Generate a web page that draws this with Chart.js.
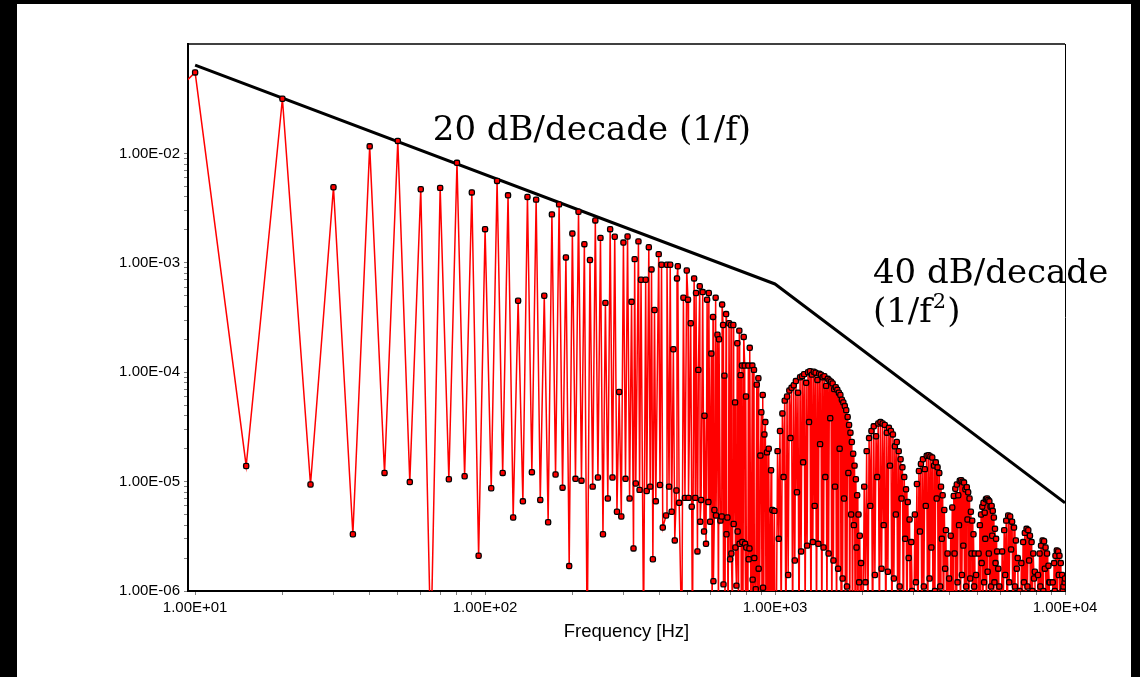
<!DOCTYPE html>
<html>
<head>
<meta charset="utf-8">
<script src="https://cdn.jsdelivr.net/npm/chart.js@4.4.0/dist/chart.umd.min.js"></script>
<style>
  html, body { margin: 0; padding: 0; background: #000; width: 1140px; height: 677px; overflow: hidden; }
  #frame { position: absolute; left: 17px; top: 4px; width: 1114px; height: 673px; background: #fff; }
</style>
</head>
<body>
<div id="frame"><canvas id="chart" width="1114" height="673"></canvas></div>
<script>
// Spectrum, split in bands (Hz / amplitude)
var lowFreq = [5,10,15,20,25,30,35,40,45,50,55,60,65,70,75,80,85,90,95,100,105,110,115,120,125,130,135,140,145,150,155,160,
  165,170,175,180,185,190,195,200,205,210,215,220,225,230,235,240,245,250,255,260,265,270,275,280,285,290,295,300,305,310,315,320];
var lowAmp = [9e-3,5.5e-2,1.39e-5,3.16e-2,9.4e-6,4.9e-3,3.3e-6,1.16e-2,1.2e-5,1.3e-2,9.9e-6,4.7e-3,3e-7,4.84e-3,1.05e-5,8.2e-3,
  1.12e-5,4.4e-3,2.1e-6,2.03e-3,8.7e-6,5.6e-3,1.2e-5,4.14e-3,4.7e-6,4.5e-4,6.6e-6,4.0e-3,1.22e-5,3.78e-3,6.8e-6,5.0e-4,
  4.25e-6,2.77e-3,1.16e-5,3.42e-3,8.8e-6,1.12e-3,1.69e-6,1.85e-3,1.06e-5,2.93e-3,1.02e-5,1.48e-3,3e-7,1.06e-3,9.0e-6,2.44e-3,
  1.09e-5,1.69e-3,3.3e-6,4.3e-4,7.0e-6,2.03e-3,1.09e-5,1.73e-3,5.3e-6,6.6e-5,4.8e-6,1.53e-3,1.06e-5,1.74e-3,7.0e-6,4.4e-4];

var midFreq = [325,328,331,338,341,345,352,358,361,367,371,375,379,384,388,397,401,406,410,421,424,431,435,440,446,451,457,459,
  462,467,477,483,489,496,501,503,512,516,519,526,531,534,540,544,550,552,556,563,569,571,578,583,589,591,597,603,607,611,613,
  618,624,626,633,638,641,648,655,657,662,664,669,672,678,680,685,689,694,700,705,707,713,718,720,728,730,736,741,743,748,753,
  755,761,765,769,771,775,780,786,788,791,794,796,806,809,811,816,818,826,835,837,842,846,848,858,865,870,876,878,884,890,897,
  902,907,909,914,919,926,931,938,944,951,958,969,974,979,987,995,1000];
var midAmp = [2.45e-6,1.08e-3,9.6e-6,1.57e-3,8.4e-6,7.0e-4,4e-7,7.0e-4,8.2e-6,1.39e-3,9.0e-6,8.7e-4,1.95e-6,3.7e-4,6.6e-6,1.2e-3,
  9.3e-6,9.6e-4,3.8e-6,4.9e-6,9.6e-4,9.0e-6,9.6e-4,5.3e-6,1.62e-4,2.9e-6,8.3e-6,7.2e-4,9.3e-4,6.4e-6,3e-7,4.8e-4,7.1e-6,8.5e-4,
  4.6e-4,7.1e-6,2.8e-4,5.9e-6,3e-7,7.2e-4,7.1e-6,5.3e-4,2.3e-6,1.05e-4,6.1e-4,4.3e-6,6.8e-6,5.4e-4,3.5e-6,4.0e-5,2.7e-6,4.6e-4,
  6.5e-6,5.3e-4,4.3e-6,1.48e-4,5e-7,3.2e-4,1.23e-6,5.5e-6,4.8e-4,4.9e-6,2.2e-4,5e-7,2.0e-4,4.4e-6,4.8e-6,4.15e-4,2.7e-4,1.15e-6,
  9.3e-5,6e-7,3.4e-4,3.3e-6,4.7e-6,5e-7,2.8e-4,1.95e-6,2.7e-4,2.2e-6,7e-7,2.7e-4,4.1e-6,5.3e-5,2.5e-6,1.12e-6,1.84e-4,3.5e-6,
  8e-7,2.4e-4,2.7e-6,9.4e-5,6e-7,1.15e-4,2.8e-6,5e-7,2.1e-4,1.15e-4,2.7e-6,6e-7,6.0e-5,2.5e-6,5e-7,1.15e-4,1.95e-6,2.45e-6,
  1.67e-4,4e-7,1.15e-4,1.27e-6,6e-7,1.05e-4,2.0e-6,1.04e-6,7.7e-5,4e-7,8.8e-5,1.6e-6,5e-7,1.73e-5,4.3e-5,4e-7,6.2e-5,1.07e-6,
  5e-7,2.7e-5,3.5e-5,4e-7,1.85e-5,5e-7,2.0e-5,4e-7,1.27e-5,4e-7,5.5e-6,3e-7,5.4e-6,2e-7];

var lobe1Freq = [1010,1020,1030,1040,1050,1060,1070,1080,1090,1100,1110,1120,1130,1140,1150,1160,1170,1180,1190,1200,
  1210,1220,1230,1240,1250,1260,1270,1280,1290,1300,1310,1320,1330,1340,1350,1360,1370,1380,1390,1400,1410,1420,1430,1440,
  1450,1460,1470,1480,1490,1500,1510,1520,1530,1540,1550,1560,1570,1580,1590,1600,1610,1620,1630,1640,1650,1660,1670,1680,
  1690,1700,1710,1720,1730,1740,1750,1760,1770,1780,1790,1800,1810,1820,1830,1840,1850,1860,1870,1880,1890,1900,1910,1920,
  1930,1940,1950,1960,1970,1980,1990];
var lobe1Amp = [4e-7,1.9e-5,3e-6,2.9e-5,5e-7,4.2e-5,1.1e-5,5.5e-5,3e-7,6.0e-5,
  1.4e-6,6.8e-5,2.5e-5,7.2e-5,4e-7,7.6e-5,1.9e-6,8.3e-5,8e-6,6.5e-5,
  3e-7,9.0e-5,2.3e-6,9.2e-5,1.5e-5,9.6e-5,5e-7,8.0e-5,2.6e-6,1.0e-4,
  3.5e-5,1.02e-4,3e-7,9.5e-5,2.8e-6,1.01e-4,6e-6,9.9e-5,4e-7,8.5e-5,
  2.7e-6,9.7e-5,2.2e-5,9.5e-5,3e-7,9.0e-5,2.5e-6,9.2e-5,1.1e-5,7.5e-5,
  5e-7,8.7e-5,2.2e-6,8.4e-5,3.8e-5,8.2e-5,4e-7,7.9e-5,1.9e-6,7.0e-5,
  9e-6,7.3e-5,3e-7,6.9e-5,1.6e-6,6.5e-5,2.0e-5,6.2e-5,5e-7,5.6e-5,
  1.3e-6,5.3e-5,7e-6,4.9e-5,3e-7,4.5e-5,1.1e-6,3.9e-5,1.2e-5,3.3e-5,
  4e-7,2.8e-5,5e-6,2.3e-5,3e-7,1.8e-5,4e-6,1.4e-5,3e-7,1.05e-5,
  2.5e-6,7.5e-6,3e-7,5e-6,1.2e-6,3.2e-6,3e-7,1.8e-6,2e-7];

var lobe2Freq = [2010,2030,2050,2070,2090,2110,2130,2150,2170,2190,2210,2230,2250,2270,2290,2310,2330,2350,2370,2390,
  2410,2430,2450,2470,2490,2510,2530,2550,2570,2590,2610,2630,2650,2670,2690,2710,2730,2750,2770,2790,2810,2830,2850,2870,
  2890,2910,2930,2950,2970,2990];
var lobe2Amp = [3e-7,9e-6,1.2e-6,1.9e-5,4e-7,2.5e-5,6e-6,2.9e-5,3e-7,3.2e-5,
  1.4e-6,2.6e-5,1.1e-5,3.4e-5,4e-7,3.5e-5,1.6e-6,3.4e-5,4e-6,3.3e-5,
  3e-7,2.8e-5,1.5e-6,3.1e-5,1.4e-5,2.9e-5,3e-7,2.7e-5,1.3e-6,2.1e-5,
  5e-6,2.3e-5,4e-7,1.9e-5,1.1e-6,1.6e-5,7e-6,1.35e-5,3e-7,1.1e-5,
  3e-6,8.5e-6,3e-7,6.5e-6,2e-6,4.5e-6,3e-7,2.8e-6,1e-6,2e-7];

var lobe3Freq = [3010,3035,3060,3085,3110,3135,3160,3185,3210,3235,3260,3285,3310,3335,3360,3385,3410,3435,3460,3485,
  3510,3535,3560,3585,3610,3635,3660,3685,3710,3735,3760,3785,3810,3835,3860,3885,3910,3935,3960,3985];
var lobe3Amp = [4e-7,5e-6,1.2e-6,9.5e-6,3e-7,1.25e-5,3.5e-6,1.45e-5,4e-7,1.6e-5,
  1.1e-6,1.3e-5,6e-6,1.72e-5,3e-7,1.74e-5,1.3e-6,1.7e-5,2.5e-6,1.66e-5,
  3e-7,1.4e-5,1e-6,1.5e-5,7e-6,1.35e-5,4e-7,1.2e-5,1.1e-6,9e-6,
  3e-6,7.5e-6,3e-7,5.5e-6,1.6e-6,3.6e-6,3e-7,2.2e-6,8e-7,1.3e-6];

var lobe4Freq = [4010,4035,4060,4085,4110,4135,4160,4185,4210,4235,4260,4285,4310,4335,4360,4385,4410,4435,4460,4485,
  4510,4535,4560,4585,4610,4635,4660,4685,4710,4735,4760,4785,4810,4835,4860,4885,4910,4935,4960,4985];
var lobe4Amp = [3e-7,3.2e-6,9e-7,5.8e-6,3e-7,7.4e-6,2.2e-6,8.6e-6,4e-7,9.4e-6,
  1.2e-6,7.5e-6,4e-6,1.02e-5,3e-7,1.03e-5,1.4e-6,1.0e-5,2.6e-6,9.8e-6,
  3e-7,8.5e-6,1.1e-6,8.9e-6,4.5e-6,8e-6,4e-7,7e-6,1.3e-6,5.3e-6,
  2.2e-6,4.4e-6,3e-7,3.3e-6,1.1e-6,2.2e-6,3e-7,1.4e-6,6e-7,9e-7];

var lobe5Freq = [5010,5035,5060,5085,5110,5135,5160,5185,5210,5235,5260,5285,5310,5335,5360,5385,5410,5435,5460,5485,
  5510,5535,5560,5585,5610,5635,5660,5685,5710,5735,5760,5785,5810,5835,5860,5885,5910,5935,5960,5985];
var lobe5Amp = [3e-7,2.2e-6,8e-7,4e-6,3e-7,5e-6,1.8e-6,5.9e-6,4e-7,6.4e-6,
  1.2e-6,5.2e-6,3e-6,6.9e-6,3e-7,7e-6,1.5e-6,6.8e-6,2.2e-6,6.6e-6,
  3e-7,5.9e-6,1.1e-6,6e-6,3.2e-6,5.4e-6,4e-7,4.7e-6,1.2e-6,3.7e-6,
  1.8e-6,3e-6,3e-7,2.3e-6,9e-7,1.6e-6,3e-7,1.1e-6,5e-7,7e-7];

var lobe6Freq = [6020,6070,6120,6170,6220,6270,6320,6370,6420,6470,6520,6570,6620,6670,6720,6770,6820,6870,6920,6970];
var lobe6Amp = [3e-7,2.3e-6,6e-7,3.6e-6,1.4e-6,4.4e-6,3e-7,4.9e-6,1.2e-6,4.8e-6,2.4e-6,4.3e-6,3e-7,3.8e-6,1.1e-6,2.9e-6,1.6e-6,2e-6,3e-7,1e-6];

var lobe7Freq = [7020,7070,7120,7170,7220,7270,7320,7370,7420,7470,7520,7570,7620,7670,7720,7770,7820,7870,7920,7970];
var lobe7Amp = [3e-7,1.8e-6,5e-7,2.8e-6,1.2e-6,3.4e-6,3e-7,3.7e-6,1.1e-6,3.6e-6,1.9e-6,3.2e-6,3e-7,2.8e-6,1e-6,2.2e-6,1.3e-6,1.5e-6,3e-7,8e-7];

var lobe8Freq = [8020,8070,8120,8170,8220,8270,8320,8370,8420,8470,8520,8570,8620,8670,8720,8770,8820,8870,8920,8970];
var lobe8Amp = [3e-7,1.4e-6,5e-7,2.2e-6,1.1e-6,2.6e-6,3e-7,2.9e-6,1e-6,2.85e-6,1.6e-6,2.5e-6,3e-7,2.2e-6,9e-7,1.7e-6,1.2e-6,1.2e-6,3e-7,7e-7];

var lobe9Freq = [9020,9070,9120,9170,9220,9270,9320,9370,9420,9470,9520,9570,9620,9670,9720,9770,9820,9870,9920,9970,10000];
var lobe9Amp = [3e-7,1.2e-6,5e-7,1.8e-6,1e-6,2.1e-6,3e-7,2.35e-6,9e-7,2.3e-6,1.4e-6,2.1e-6,3e-7,1.8e-6,8e-7,1.4e-6,1e-6,1.1e-6,3e-7,1.2e-6,1.3e-6];

// Asymptote: 1/f up to 1 kHz, then 1/f^2
var slopeFreq = [10, 1000, 10000];
var slopeAmp = [0.064, 6.4e-4, 6.4e-6];

// Axis ticks
var xMajor = [10, 100, 1000, 10000];
var xTickLabels = ['1.00E+01', '1.00E+02', '1.00E+03', '1.00E+04'];
var yMajor = [1e-6, 1e-5, 1e-4, 1e-3, 1e-2];
var yTickLabels = ['1.00E-06', '1.00E-05', '1.00E-04', '1.00E-03', '1.00E-02'];

// Annotations (left edge / baseline in data units)
var noteText = ['20 dB/decade (1/f)', '40 dB/decade', '(1/f'];
var noteFreq = [66, 2175, 2175];
var noteAmp = [0.0132, 6.5e-4, 2.9e-4];

var spectrum = [];
function addBand(freqs, amps) {
  for (var i = 0; i < freqs.length; i++) {
    spectrum.push({x: freqs[i], y: amps[i]});
  }
}
addBand(lowFreq, lowAmp);
addBand(midFreq, midAmp);
addBand(lobe1Freq, lobe1Amp);
addBand(lobe2Freq, lobe2Amp);
addBand(lobe3Freq, lobe3Amp);
addBand(lobe4Freq, lobe4Amp);
addBand(lobe5Freq, lobe5Amp);
addBand(lobe6Freq, lobe6Amp);
addBand(lobe7Freq, lobe7Amp);
addBand(lobe8Freq, lobe8Amp);
addBand(lobe9Freq, lobe9Amp);

var slope = slopeFreq.map(function(f, i) { return {x: f, y: slopeAmp[i]}; });

// decades plus the 2..9 minor steps in between
function logTicks(majors) {
  var out = [];
  for (var i = 0; i < majors.length; i++) {
    out.push(majors[i]);
    if (i < majors.length - 1) {
      for (var k = 2; k <= 9; k++) out.push(majors[i] * k);
    }
  }
  return out;
}
var xTicks = logTicks(xMajor);
var yTicks = logTicks(yMajor);

function labelFor(value, majors, labels) {
  for (var i = 0; i < majors.length; i++) {
    if (Math.abs(value / majors[i] - 1) < 1e-6) return labels[i];
  }
  return '';
}

var extras = {
  id: 'extras',
  afterDraw: function(chart) {
    var ctx = chart.ctx;
    var a = chart.chartArea;
    var xs = chart.scales.x, ys = chart.scales.y;
    ctx.save();
    // top and right frame of the plot box
    ctx.strokeStyle = '#000';
    ctx.lineWidth = 1.5;
    ctx.beginPath();
    ctx.moveTo(a.left, a.top);
    ctx.lineTo(a.right, a.top);
    ctx.stroke();
    ctx.lineWidth = 1;
    ctx.beginPath();
    ctx.moveTo(a.right + 0.5, a.top);
    ctx.lineTo(a.right + 0.5, a.bottom);
    ctx.stroke();

    ctx.fillStyle = '#000';
    ctx.textAlign = 'left';
    ctx.textBaseline = 'alphabetic';
    ctx.font = '34px "DejaVu Serif"';
    for (var i = 0; i < noteText.length; i++) {
      ctx.fillText(noteText[i], xs.getPixelForValue(noteFreq[i]), ys.getPixelForValue(noteAmp[i]));
    }
    var last = noteText.length - 1;
    var x = xs.getPixelForValue(noteFreq[last]) + ctx.measureText(noteText[last]).width;
    var y = ys.getPixelForValue(noteAmp[last]);
    ctx.font = '21px "DejaVu Serif"';
    ctx.fillText('2', x + 1, y - 14);
    var w = ctx.measureText('2').width;
    ctx.font = '34px "DejaVu Serif"';
    ctx.fillText(')', x + w + 2, y);
    ctx.restore();
  }
};

Chart.defaults.font.family = "'Liberation Sans', Arial, sans-serif";
Chart.defaults.color = '#000';

var chart = new Chart('chart', {
  type: 'line',
  data: {
    datasets: [
      {
        data: spectrum,
        borderColor: '#ff0000',
        borderWidth: 1.5,
        pointStyle: 'rectRounded',
        pointRadius: 3,
        pointBackgroundColor: '#ff0000',
        pointBorderColor: '#000',
        pointBorderWidth: 1.3,
        tension: 0,
        order: 1
      },
      {
        data: slope,
        borderColor: '#000',
        borderWidth: 3,
        borderJoinStyle: 'round',
        pointRadius: 0,
        order: 2
      }
    ]
  },
  options: {
    responsive: false,
    animation: false,
    layout: { padding: { top: 40, right: 66, bottom: 0, left: 0 } },
    plugins: {
      legend: { display: false },
      tooltip: { enabled: false }
    },
    scales: {
      x: {
        type: 'logarithmic',
        position: 'bottom',
        min: 9.45,
        max: 10000,
        afterBuildTicks: function(scale) {
          scale.ticks = xTicks.map(function(v) { return {value: v}; });
        },
        afterFit: function(scale) { scale.height = 86; },
        ticks: {
          autoSkip: false,
          maxRotation: 0,
          minRotation: 0,
          padding: 4,
          font: { size: 15 },
          color: '#000',
          callback: function(value) { return labelFor(value, xMajor, xTickLabels); }
        },
        grid: { drawOnChartArea: false, drawTicks: true, tickLength: 4, color: '#808080' },
        border: { display: true, color: '#000', width: 2 },
        title: {
          display: true,
          text: 'Frequency [Hz]',
          font: { size: 18.5 },
          color: '#000',
          padding: { top: 0, bottom: 34 }
        }
      },
      y: {
        type: 'logarithmic',
        position: 'left',
        min: 1e-6,
        max: 0.1,
        afterBuildTicks: function(scale) {
          scale.ticks = yTicks.map(function(v) { return {value: v}; });
        },
        afterFit: function(scale) { scale.width = 171; },
        ticks: {
          autoSkip: false,
          padding: 4,
          font: { size: 15 },
          color: '#000',
          callback: function(value) { return labelFor(value, yMajor, yTickLabels); }
        },
        grid: { drawOnChartArea: false, drawTicks: true, tickLength: 4, color: '#808080' },
        border: { display: true, color: '#000', width: 2 }
      }
    }
  },
  plugins: [extras]
});
</script>
</body>
</html>
